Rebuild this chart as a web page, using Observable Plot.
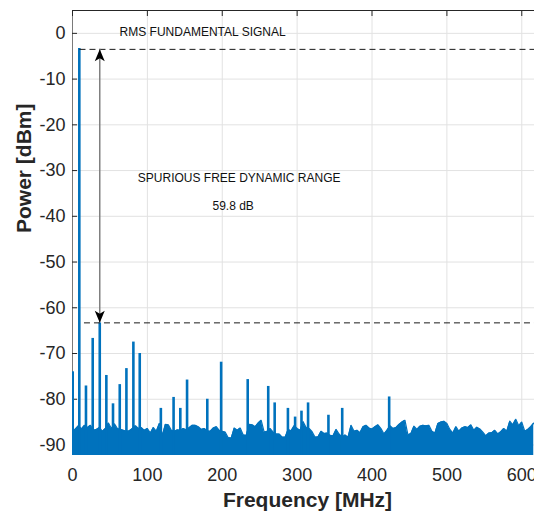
<!DOCTYPE html>
<html><head><meta charset="utf-8">
<script src="https://cdn.jsdelivr.net/npm/d3@7"></script>
<script src="https://cdn.jsdelivr.net/npm/@observablehq/plot@0.6"></script>
<style>
body{margin:0;background:#fff;}
#chart{width:534px;height:512px;overflow:hidden;}
svg{font-family:"Liberation Sans",Arial,Helvetica,sans-serif;}
</style></head><body><div id="chart"></div>
<script>
// ---- data ----
const xTicks = [0, 100, 200, 300, 400, 500, 600];
const yTicks = [-90, -80, -70, -60, -50, -40, -30, -20, -10, 0];
const xDomain = [0, 617];
const yDomain = [-92.3, 5];

// noise floor envelope (dBm), every 4 MHz starting at 0 MHz
const noiseStartMHz = 0;
const noiseStepMHz = 4;
const noiseFloorDbm = [
  -87.0, -86.5, -85.8, -86.5, -85.7, -86.2,
  -85.7, -86.8, -86.6, -86.2, -87.0, -86.4, -85.2, -86.4, -85.4, -86.4,
  -86.6, -86.8, -87.0, -86.9, -86.4, -85.8, -86.4, -86.2, -86.8, -86.4,
  -87.4, -86.2, -87.0, -85.3, -87.9,
  -85.5, -85.6, -86.8, -87.0, -86.7, -86.8, -86.4, -86.7, -86.2, -85.7,
  -85.7, -86.0, -86.6, -86.4, -86.9, -87.0, -86.3, -86.0, -86.8, -87.0,
  -87.2, -88.4, -88.5, -86.3, -86.8, -86.3, -87.8, -87.9, -85.5, -85.6,
  -86.0, -85.2, -84.6, -87.2, -87.0, -86.4, -87.2, -87.6, -87.6, -88.3,
  -88.3, -86.6, -86.9, -85.8, -86.4, -86.8, -84.9, -86.2, -86.4, -87.1,
  -88.3, -88.2, -87.0, -87.5, -87.4, -87.9, -88.0, -86.6, -87.6, -88.3,
  -87.8, -88.3, -85.7, -87.0, -86.8, -87.3, -86.0, -85.7, -86.3, -86.5,
  -86.0, -85.6, -86.4, -87.6, -86.8, -85.8, -86.4, -86.2, -85.5, -85.0,
  -84.6, -87.8, -87.5, -85.9, -86.6, -85.9, -85.7, -85.8, -85.7, -87.0,
  -87.4, -85.3, -85.0, -84.8, -85.3, -86.6, -87.4, -86.0, -87.0, -86.3,
  -86.0, -86.2, -85.6, -86.8, -86.1, -86.5, -87.2, -88.0, -87.4, -87.3,
  -86.8, -87.6, -87.1, -86.4, -87.0, -84.8, -85.6, -84.4, -85.8, -85.0,
  -87.0, -86.6, -86.0, -85.2
];

// spectral lines (fundamental + spurs)
const spurFreqMHz = [0.3, 9.1, 18, 27, 36.4, 45.2, 54.1, 63.1, 72, 81.3, 89.8,
  118, 135, 144, 153, 180, 198.5, 234, 261.4, 270, 287.7, 297.3, 305.8, 314.6,
  341.8, 360.2, 422.9];
const spurPeakDbm = [-74, -3.3, -77.1, -66.7, -63.3, -74.8, -81, -76.8, -73.3, -67.5, -70,
  -82, -79.6, -82, -75.8, -80, -71.9, -75.7, -77.2, -80.8, -82, -83.9, -82.6, -80.8,
  -83.5, -82, -79.5];

// annotation levels
const fundamentalLevelDbm = -3.5;
const worstSpurLevelDbm = -63.3;
const worstSpurFreqMHz = 36.4;
const annotationTexts = ["RMS FUNDAMENTAL SIGNAL", "SPURIOUS FREE DYNAMIC RANGE", "59.8 dB"];
const annotationX = [173.8, 222.6, 214.6];
const annotationY = [0.35, -31.7, -37.8];

const xLabel = "Frequency [MHz]";
const yLabel = "Power [dBm]";

// ---- build ----
const blue = "#0072BD";
const noise = noiseFloorDbm.map((v, i) => ({f: noiseStartMHz + i * noiseStepMHz, v}));
const spurs = spurFreqMHz.map((f, i) => ({f, v: spurPeakDbm[i]}));
const annotations = annotationTexts.map((t, i) => ({t, x: annotationX[i], y: annotationY[i]}));

const arrowUp = {draw(c) { c.moveTo(0, 0); c.lineTo(5, 12); c.lineTo(0, 9); c.lineTo(-5, 12); c.closePath(); }};
const arrowDown = {draw(c) { c.moveTo(0, 0); c.lineTo(5, -12); c.lineTo(0, -9); c.lineTo(-5, -12); c.closePath(); }};

const chart = Plot.plot({
  width: 534,
  height: 512,
  marginLeft: 72,
  marginRight: 0,
  marginTop: 10,
  marginBottom: 57,
  x: {domain: xDomain},
  y: {domain: yDomain},
  style: {fontFamily: '"Liberation Sans", Arial, sans-serif', fontSize: "18px", color: "#262626", background: "#fff"},
  marks: [
    Plot.gridX(xTicks, {stroke: "#e2e2e2", strokeOpacity: 1}),
    Plot.gridY(yTicks, {stroke: "#e2e2e2", strokeOpacity: 1}),
    Plot.text(annotations, {x: "x", y: "y", text: "t", fontSize: 12, fill: "#111", ariaLabel: "annotation"}),
    Plot.ruleX([xDomain[0]], {stroke: "#7a7a7a"}),
    Plot.ruleY([yDomain[1]], {stroke: "#262626"}),
    Plot.axisY(yTicks, {tickSize: -5, tickPadding: 12, tickFormat: d => String(d), fontSize: 18, label: null, stroke: "#262626"}),
    Plot.axisX(xTicks, {anchor: "top", tickSize: -5, tickFormat: () => "", label: null, stroke: "#262626"}),
    Plot.axisX(xTicks, {anchor: "bottom", tickSize: 0, tickPadding: 13, tickFormat: d => String(d), fontSize: 18, label: null}),
    Plot.areaY(noise, {x: "f", y1: yDomain[0], y2: "v", fill: blue, curve: "linear", clip: true}),
    Plot.lineY(noise, {x: "f", y: "v", stroke: blue, strokeWidth: 1.2, curve: "linear", clip: true}),
    Plot.ruleX(spurs, {x: "f", y1: yDomain[0], y2: "v", stroke: blue, strokeWidth: 2.6, clip: true}),
    Plot.ruleY([fundamentalLevelDbm], {x1: 10, x2: xDomain[1], stroke: "#1a1a1a", strokeDasharray: "6,4"}),
    Plot.ruleY([worstSpurLevelDbm], {x1: 16, x2: xDomain[1], stroke: "#1a1a1a", strokeDasharray: "6,4"}),
    Plot.ruleX([worstSpurFreqMHz], {y1: worstSpurLevelDbm, y2: fundamentalLevelDbm, stroke: "#808080", strokeWidth: 1.5}),
    Plot.dot([{x: worstSpurFreqMHz, y: fundamentalLevelDbm}], {x: "x", y: "y", symbol: arrowUp, fill: "#000", stroke: "none"}),
    Plot.dot([{x: worstSpurFreqMHz, y: worstSpurLevelDbm}], {x: "x", y: "y", symbol: arrowDown, fill: "#000", stroke: "none"}),
    Plot.text([xLabel], {frameAnchor: "bottom", dy: 45, dx: 4, lineAnchor: "middle", fontSize: 21, fontWeight: "bold", fill: "#262626"}),
    Plot.text([yLabel], {frameAnchor: "left", dx: -48, rotate: -90, lineAnchor: "middle", fontSize: 21, fontWeight: "bold", fill: "#262626"})
  ]
});
document.getElementById("chart").appendChild(chart);

// white boxes behind annotation texts
d3.select(chart).selectAll('g[aria-label="annotation"] text').each(function() {
  const b = this.getBBox();
  const r = document.createElementNS("http://www.w3.org/2000/svg", "rect");
  r.setAttribute("x", b.x - 7);
  r.setAttribute("y", b.y - 6);
  r.setAttribute("width", b.width + 27);
  r.setAttribute("height", b.height + 12);
  r.setAttribute("fill", "#fff");
  const tr = this.getAttribute("transform");
  if (tr) r.setAttribute("transform", tr);
  this.parentNode.insertBefore(r, this);
});
</script>
</body></html>
